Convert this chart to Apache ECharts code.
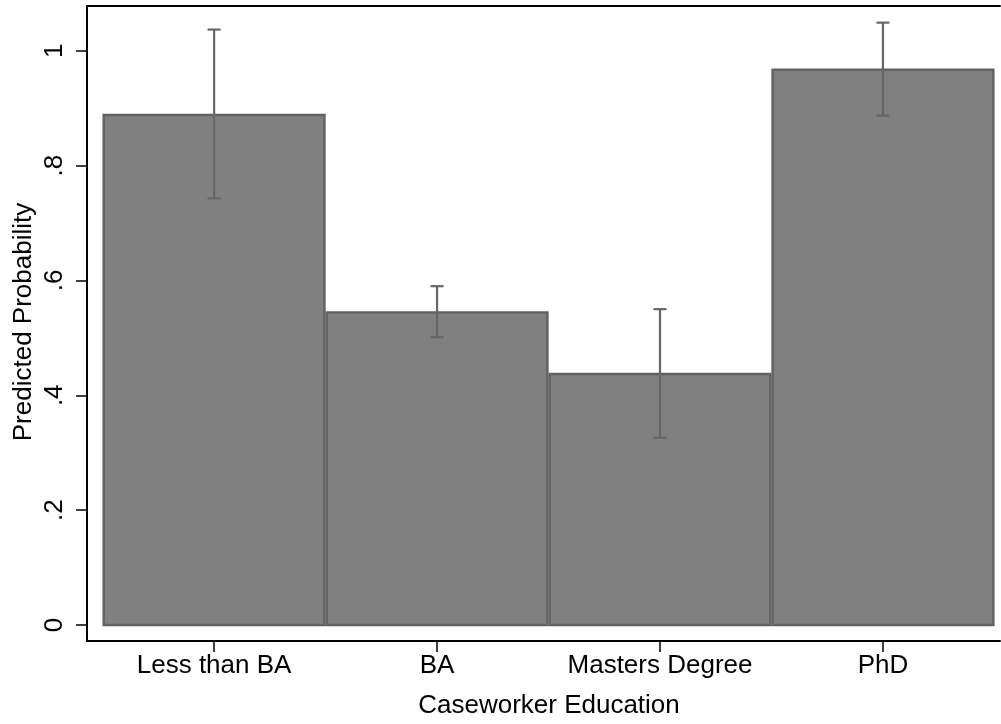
<!DOCTYPE html>
<html>
<head>
<meta charset="utf-8">
<script src="https://cdn.jsdelivr.net/npm/echarts@6/dist/echarts.min.js"></script>
<style>html,body{margin:0;padding:0;background:#fff}#c{width:1001px;height:724px}</style>
</head>
<body>
<div id="c"></div>
<script>
const categories = ['Less than BA', 'BA', 'Masters Degree', 'PhD'];
const predicted = [0.888, 0.544, 0.437, 0.967];
const ciLower = [0.743, 0.501, 0.326, 0.887];
const ciUpper = [1.037, 0.590, 0.550, 1.049];
const yTicks = [0, 0.2, 0.4, 0.6, 0.8, 1];
const yTickLabels = ['0', '.2', '.4', '.6', '.8', '1'];
const xTitle = 'Caseworker Education';
const yTitle = 'Predicted Probability';

const FONT = 'Liberation Sans, Arial, sans-serif';
const chart = echarts.init(document.getElementById('c'), null, {renderer: 'canvas'});

const barData = categories.map((c, i) => [i + 1, predicted[i]]);
const errData = categories.map((c, i) => [i + 1, ciLower[i], ciUpper[i]]);

chart.setOption({
  animation: false,
  backgroundColor: '#ffffff',
  grid: {left: 87, right: 1, top: 6, bottom: 83, containLabel: false, outerBoundsMode: 'none'},
  xAxis: [{
    type: 'value', min: 0.43, max: 4.525, position: 'bottom',
    axisLine: {show: true, onZero: false, lineStyle: {color: '#000', width: 2}},
    axisTick: {show: true, length: 11, lineStyle: {color: '#000', width: 1.5}, customValues: [1, 2, 3, 4]},
    axisLabel: {show: true, customValues: [1, 2, 3, 4], margin: 12,
      formatter: v => categories[Math.round(v) - 1] || '',
      color: '#000', fontFamily: FONT, fontSize: 26},
    splitLine: {show: false}
  }, {
    type: 'value', min: 0.43, max: 4.525, position: 'top',
    axisLine: {show: true, onZero: false, lineStyle: {color: '#000', width: 2}},
    axisTick: {show: false}, axisLabel: {show: false}, splitLine: {show: false}
  }],
  yAxis: {
    type: 'value', min: -0.028, max: 1.078,
    axisLine: {show: true, onZero: false, lineStyle: {color: '#000', width: 2}},
    axisTick: {show: true, length: 11, lineStyle: {color: '#000', width: 1.5}, customValues: yTicks},
    axisLabel: {show: true, customValues: yTicks, rotate: 90, margin: 19,
      formatter: v => { const i = yTicks.findIndex(t => Math.abs(t - v) < 1e-6); return i >= 0 ? yTickLabels[i] : ''; },
      color: '#000', fontFamily: FONT, fontSize: 26},
    splitLine: {show: false}
  },
  graphic: [
    {type: 'text', x: 549, y: 706, style: {text: xTitle, fill: '#000', font: '26px ' + FONT, align: 'center', verticalAlign: 'middle'}},
    {type: 'text', x: 24, y: 322, rotation: Math.PI / 2, style: {text: yTitle, fill: '#000', font: '26px ' + FONT, align: 'center', verticalAlign: 'middle'}}
  ],
  series: [{
    type: 'custom',
    data: barData,
    renderItem: function (params, api) {
      const x = api.value(0), y = api.value(1);
      const p0 = api.coord([x - 0.495, 0]);
      const p1 = api.coord([x + 0.495, y]);
      return {
        type: 'rect',
        shape: {x: p0[0], y: p1[1], width: p1[0] - p0[0], height: p0[1] - p1[1]},
        style: {fill: '#808080', stroke: '#636363', lineWidth: 2.5}
      };
    },
    encode: {x: 0, y: 1}
  }, {
    type: 'custom',
    data: errData,
    renderItem: function (params, api) {
      const x = api.value(0);
      const lo = api.coord([x, api.value(1)]);
      const hi = api.coord([x, api.value(2)]);
      const cap = 6.5;
      const st = {stroke: '#666666', lineWidth: 2.2};
      return {
        type: 'group',
        children: [
          {type: 'line', shape: {x1: lo[0], y1: lo[1], x2: hi[0], y2: hi[1]}, style: st},
          {type: 'line', shape: {x1: lo[0] - cap, y1: lo[1], x2: lo[0] + cap, y2: lo[1]}, style: st},
          {type: 'line', shape: {x1: hi[0] - cap, y1: hi[1], x2: hi[0] + cap, y2: hi[1]}, style: st}
        ]
      };
    },
    encode: {x: 0, y: [1, 2]}
  }]
});
</script>
</body>
</html>
